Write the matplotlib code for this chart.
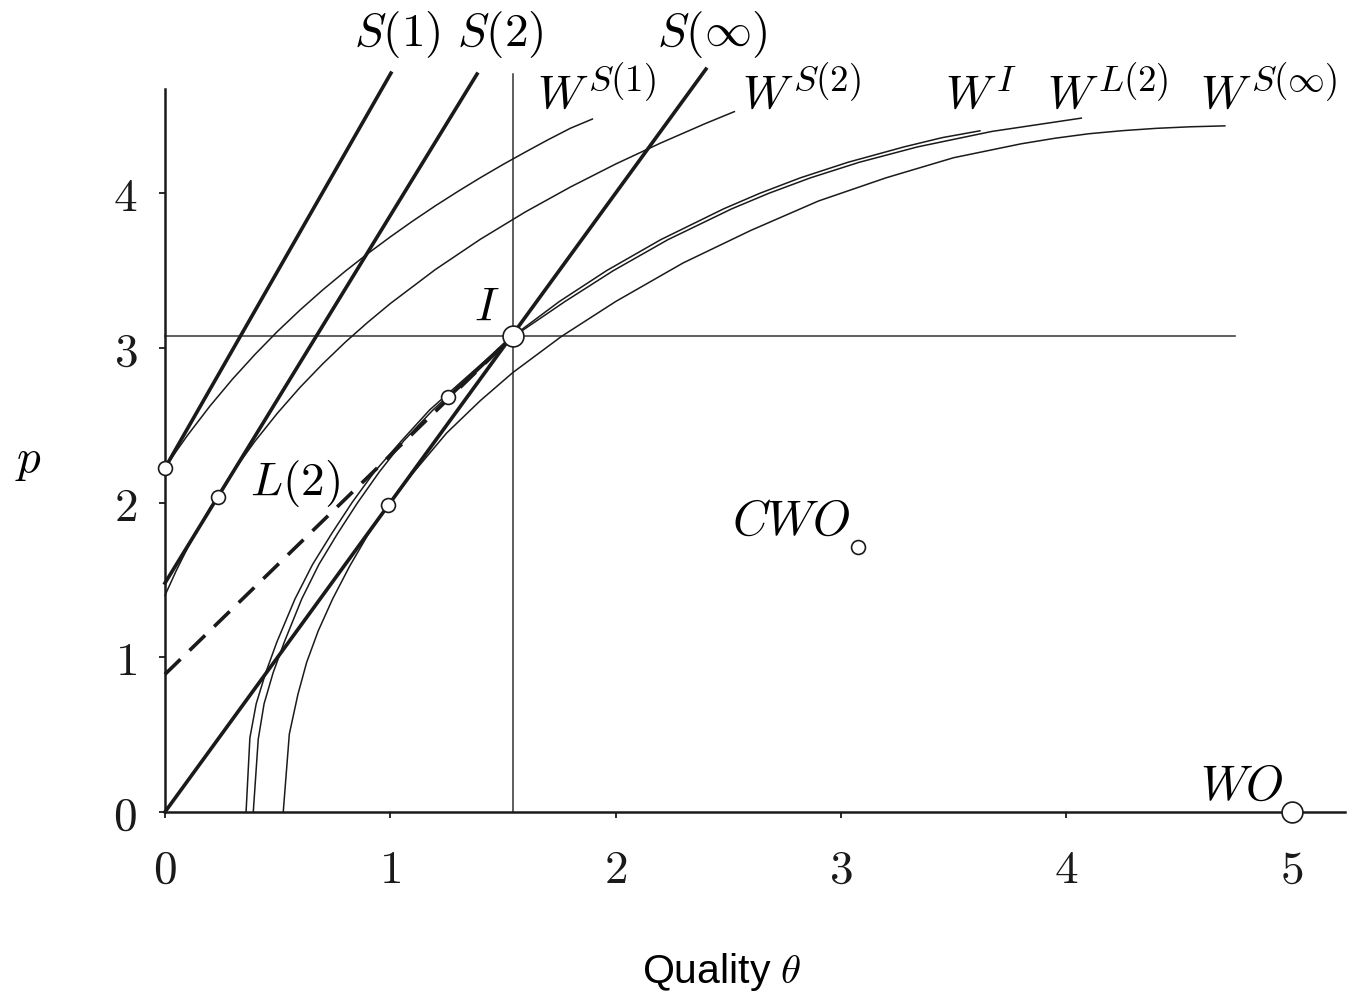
import matplotlib
matplotlib.use("Agg")
import matplotlib.pyplot as plt
from matplotlib.transforms import offset_copy

plt.rcParams['mathtext.fontset'] = 'cm'
plt.rcParams['font.family'] = ['Liberation Sans', 'DejaVu Sans']

INK = '#1a1a1a'

# Straight lines (theta, p) end points
s1_theta = [0.0, 1.003]
s1_p = [2.224, 4.777]
s2_theta = [0.0, 1.385]
s2_p = [1.48, 4.771]
sinf_theta = [0.0, 2.401]
sinf_p = [0.0, 4.803]
l2_theta = [0.0, 1.543]
l2_p = [0.89, 3.075]

# Indifference curves
ws1_theta = [0.0, 0.05, 0.1, 0.2, 0.3, 0.4, 0.5, 0.6, 0.7, 0.8, 0.9, 1.0, 1.1,
             1.2, 1.3, 1.4, 1.5, 1.6, 1.7, 1.8, 1.897]
ws1_p = [2.224, 2.332, 2.435, 2.625, 2.799, 2.959, 3.108, 3.246, 3.375, 3.496,
         3.610, 3.718, 3.821, 3.919, 4.012, 4.101, 4.186, 4.267, 4.346, 4.421, 4.48]

ws2_theta = [0.0, 0.05, 0.1, 0.2, 0.3, 0.4, 0.5, 0.6, 0.7, 0.8, 0.9, 1.0, 1.2,
             1.4, 1.6, 1.8, 2.0, 2.2, 2.4, 2.527]
ws2_p = [1.40, 1.560, 1.706, 1.967, 2.196, 2.398, 2.580, 2.746, 2.897, 3.037,
         3.166, 3.287, 3.507, 3.703, 3.880, 4.041, 4.189, 4.325, 4.452, 4.528]

wi_p = [0.0, 0.48, 0.7, 0.9, 1.1, 1.377, 1.6, 1.8, 2.0, 2.2, 2.4, 2.6, 2.8,
        3.075, 3.3, 3.5, 3.7, 3.9, 4.0, 4.1, 4.2, 4.3, 4.36, 4.404]
wi_theta = [0.360, 0.377, 0.405, 0.447, 0.497, 0.577, 0.655, 0.74, 0.83, 0.93,
            1.05, 1.175, 1.33, 1.543, 1.75, 1.96, 2.20, 2.48, 2.64, 2.82, 3.03,
            3.28, 3.45, 3.617]

wl2_p = [0.0, 0.47, 0.7, 0.9, 1.1, 1.377, 1.6, 1.8, 2.0, 2.2, 2.4, 2.6, 2.8,
         3.075, 3.3, 3.5, 3.7, 3.9, 4.0, 4.1, 4.2, 4.3, 4.4, 4.486]
wl2_theta = [0.392, 0.414, 0.44, 0.48, 0.53, 0.607, 0.683, 0.766, 0.855, 0.952,
             1.06, 1.19, 1.34, 1.548, 1.775, 1.99, 2.232, 2.516, 2.68, 2.865,
             3.08, 3.34, 3.67, 4.067]

wsinf_theta = [0.525, 0.552, 0.59, 0.629, 0.68, 0.744, 0.82, 0.90, 0.991, 1.10,
               1.25, 1.40, 1.543, 1.76, 2.0, 2.3, 2.6, 2.9, 3.2, 3.5, 3.8, 3.95,
               4.1, 4.25, 4.4, 4.55, 4.704]
wsinf_p = [0.0, 0.504, 0.76, 0.968, 1.17, 1.377, 1.59, 1.79, 1.985, 2.19, 2.45,
           2.66, 2.84, 3.075, 3.30, 3.55, 3.76, 3.95, 4.10, 4.23, 4.32, 4.356,
           4.385, 4.405, 4.42, 4.43, 4.436]

# Points
I_theta, I_p = 1.543, 3.075
small_pts_theta = [0.0, 0.234, 0.991, 1.256, 3.076]
small_pts_p = [2.224, 2.034, 1.985, 2.68, 1.713]
wo_theta, wo_p = 5.0, 0.0

x_ticks = [0, 1, 2, 3, 4, 5]
y_ticks = [0, 1, 2, 3, 4]

# curve labels: (theta, p of W baseline, superscript)
w_labels = [(1.651, 4.557, r'$S(1)$'), (2.561, 4.557, r'$S(2)$'),
            (3.462, 4.557, r'$I$'), (3.915, 4.557, r'$L(2)$'),
            (4.594, 4.557, r'$S(\infty)$')]

fig = plt.figure(figsize=(13.52, 9.95), dpi=100)
ax = fig.add_axes([0.1220, 0.1829, 0.8728, 0.7266])
ax.set_xlim(0, 5.237)
ax.set_ylim(0, 4.674)

thick = 2.6
thin = 1.1

# guide lines through I
ax.plot([I_theta, I_theta], [0, 4.77], color='#333333', lw=1.1, clip_on=False)
ax.plot([0, 4.749], [I_p, I_p], color='#333333', lw=1.1, clip_on=False)

ax.plot(s1_theta, s1_p, color=INK, lw=thick, clip_on=False)
ax.plot(s2_theta, s2_p, color=INK, lw=thick, clip_on=False)
ax.plot(sinf_theta, sinf_p, color=INK, lw=thick, clip_on=False)
ax.plot(l2_theta, l2_p, color=INK, lw=thick, dashes=(6, 3.5), clip_on=False)
ax.plot([small_pts_theta[3], I_theta], [small_pts_p[3], I_p], color=INK, lw=thick)

for th, pp in [(ws1_theta, ws1_p), (ws2_theta, ws2_p), (wi_theta, wi_p),
               (wl2_theta, wl2_p), (wsinf_theta, wsinf_p)]:
    ax.plot(th, pp, color=INK, lw=thin, clip_on=False, solid_joinstyle='round')

ax.plot(small_pts_theta, small_pts_p, 'o', ms=10, mfc='white', mec=INK, mew=1.2,
        clip_on=False, zorder=5)
ax.plot([I_theta], [I_p], 'o', ms=15, mfc='white', mec=INK, mew=1.2, clip_on=False, zorder=5)
ax.plot([wo_theta], [wo_p], 'o', ms=15, mfc='white', mec=INK, mew=1.2, clip_on=False, zorder=5)

fs = 34
ax.text(1.03, 5.03, r'$S(1)$', fontsize=fs, ha='center', va='center')
ax.text(1.487, 5.03, r'$S(2)$', fontsize=fs, ha='center', va='center')
ax.text(2.428, 5.03, r'$S(\infty)$', fontsize=fs, ha='center', va='center')

for th, pp, sup in w_labels:
    ax.text(th, pp, r'$W$', fontsize=fs, ha='left', va='baseline')
    tr = offset_copy(ax.transData, fig=fig, x=37, y=12.5, units='points')
    ax.text(th, pp, sup, fontsize=26.5, ha='left', va='baseline', transform=tr)

ax.text(1.37, 3.19, r'$I$', fontsize=fs, ha='left', va='baseline')
ax.text(0.377, 2.055, r'$L(2)$', fontsize=fs, ha='left', va='baseline')
ax.text(2.517, 1.797, r'$CWO$', fontsize=35, ha='left', va='baseline')
ax.text(4.594, 0.084, r'$WO$', fontsize=35, ha='left', va='baseline')
ax.text(-0.608, 2.275, r'$p$', fontsize=fs, ha='center', va='center')

ax.spines['top'].set_visible(False)
ax.spines['right'].set_visible(False)
for s in ['left', 'bottom']:
    ax.spines[s].set_linewidth(1.8)
    ax.spines[s].set_color(INK)

ax.set_xticks(x_ticks)
ax.set_xticklabels([f'${v}$' for v in x_ticks])
ax.set_yticks(y_ticks)
ax.set_yticklabels([f'${v}$' for v in y_ticks])
ax.tick_params(axis='both', direction='out', length=4, width=1.3, colors=INK,
               labelsize=fs)
ax.tick_params(axis='x', pad=22)
ax.tick_params(axis='y', pad=16)

fig.text(0.534, 0.012, r'Quality $\theta$', fontsize=29.5, ha='center', va='baseline')

fig.savefig('out.png', dpi=100)
